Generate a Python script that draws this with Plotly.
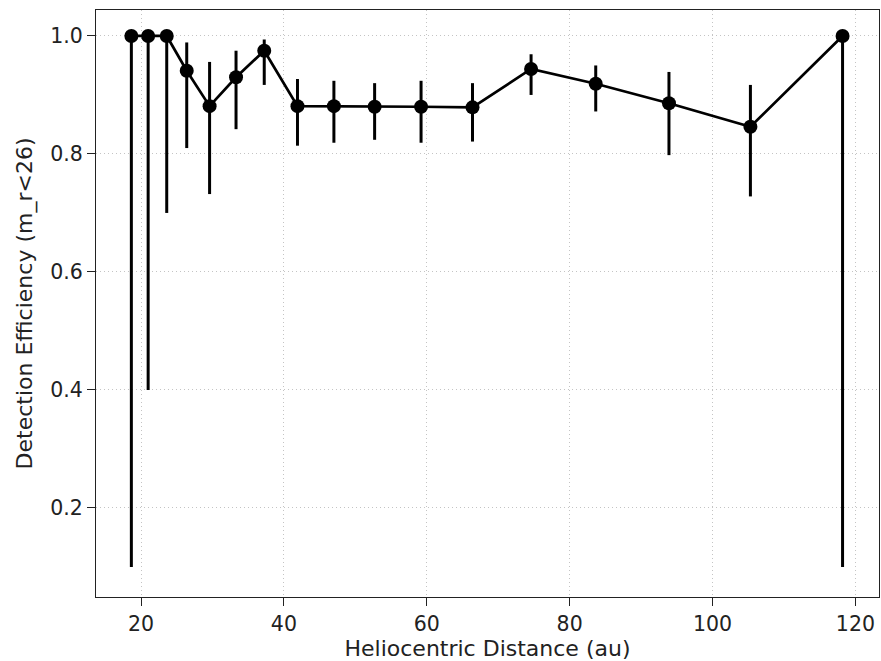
import plotly.graph_objects as go

# Heliocentric distance bins (au) and detection efficiency for m_r < 26
distance = [18.65, 21.0, 23.6, 26.4, 29.6, 33.3, 37.25, 41.9, 47.0, 52.7,
            59.2, 66.4, 74.6, 83.65, 93.9, 105.3, 118.2]
efficiency = [1.0, 1.0, 1.0, 0.941, 0.881, 0.930, 0.975, 0.881, 0.881, 0.880,
              0.880, 0.879, 0.944, 0.919, 0.886, 0.846, 1.0]
# Lower / upper bounds of the uncertainty interval
eff_low = [0.10, 0.40, 0.70, 0.810, 0.732, 0.842, 0.917, 0.814, 0.819, 0.824,
           0.819, 0.821, 0.900, 0.872, 0.798, 0.728, 0.10]
eff_high = [1.0, 1.0, 1.0, 0.989, 0.956, 0.975, 0.994, 0.927, 0.924, 0.920,
            0.924, 0.920, 0.969, 0.950, 0.939, 0.917, 1.0]

err_plus = [h - v for h, v in zip(eff_high, efficiency)]
err_minus = [v - l for v, l in zip(efficiency, eff_low)]

x_ticks = [20, 40, 60, 80, 100, 120]
y_ticks = [0.2, 0.4, 0.6, 0.8, 1.0]

TICK_FONT = dict(family="DejaVu Sans", size=20.5, color="#222")
TITLE_FONT = dict(family="DejaVu Sans", size=22, color="#222")

fig = go.Figure()
fig.add_trace(go.Scatter(
    x=distance, y=efficiency,
    mode="lines+markers",
    line=dict(color="black", width=2.7),
    marker=dict(color="black", size=14),
    error_y=dict(type="data", symmetric=False, array=err_plus,
                 arrayminus=err_minus, color="black", thickness=3, width=0),
    showlegend=False,
))

axis_common = dict(
    showline=True, linecolor="#222", linewidth=1.3, mirror=True,
    ticks="outside", ticklen=8, tickwidth=1.3, tickcolor="#222",
    showgrid=True, gridcolor="#c4c4c4", gridwidth=1, griddash="1px,3px",
    zeroline=False,
    tickfont=TICK_FONT,
)

fig.update_xaxes(
    range=[13.7, 123.3], tickvals=x_ticks, ticktext=[str(t) for t in x_ticks],
    title=dict(text="Heliocentric Distance (au)", standoff=3, font=TITLE_FONT),
    **axis_common,
)
fig.update_yaxes(
    range=[0.049, 1.044], tickvals=y_ticks, ticktext=[f"{t:.1f}" for t in y_ticks],
    title=dict(text="Detection Efficiency (m_r<26)", standoff=11, font=TITLE_FONT),
    **axis_common,
)

fig.update_layout(
    width=881, height=661,
    margin=dict(l=96, r=2, t=10, b=64),
    paper_bgcolor="white", plot_bgcolor="white",
)

fig.write_html("out.html")
